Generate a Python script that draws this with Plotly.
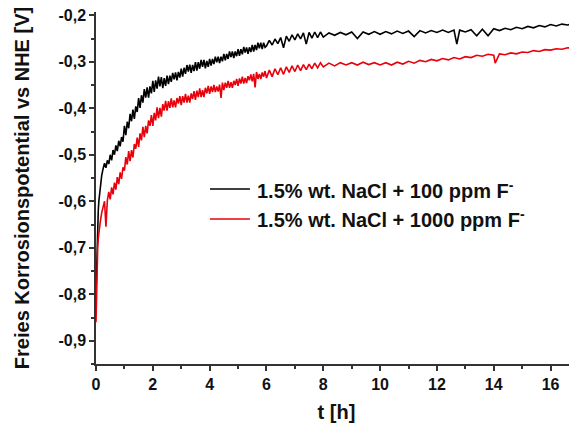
import plotly.graph_objects as go

# ---- data ----
t_black = [0, 0.02, 0.04, 0.06, 0.08, 0.1, 0.15, 0.2, 0.25, 0.3, 0.35, 0.4, 0.45, 0.5, 0.55, 0.6, 0.65, 0.7,
           0.75, 0.8, 0.85, 0.9, 0.95,
           1.0, 1.05, 1.1, 1.15, 1.2, 1.25, 1.3, 1.35, 1.4, 1.45, 1.5, 1.55, 1.6, 1.65, 1.7, 1.75, 1.8, 1.85,
           1.9, 1.95, 2.0, 2.05, 2.1, 2.15, 2.2, 2.25, 2.3, 2.35, 2.4, 2.45, 2.5, 2.55, 2.6, 2.65, 2.7, 2.75,
           2.8, 2.85, 2.9, 2.95, 3.0, 3.05, 3.1, 3.15, 3.2, 3.25, 3.3, 3.35, 3.4, 3.45, 3.5, 3.55, 3.6, 3.65,
           3.7, 3.75, 3.8, 3.85, 3.9, 3.95, 4.0, 4.05, 4.1, 4.15, 4.2, 4.25, 4.3, 4.35, 4.4, 4.45, 4.5, 4.55,
           4.6, 4.65, 4.7, 4.75, 4.8, 4.85, 4.9, 4.95, 5.0, 5.05, 5.1, 5.15, 5.2, 5.25, 5.3, 5.35, 5.4, 5.45,
           5.5, 5.55, 5.6, 5.65, 5.7, 5.75, 5.8, 5.85, 5.9, 5.95,
           6.0, 6.1, 6.2, 6.3, 6.4, 6.5, 6.6, 6.7, 6.8, 6.9,
           7.0, 7.1, 7.2, 7.3, 7.4, 7.5, 7.6, 7.7, 7.8, 7.9, 8.0,
           8.2, 8.4, 8.6, 8.8, 9.0, 9.2, 9.4, 9.6, 9.8, 10.0, 10.2, 10.4, 10.6, 10.8, 11.0, 11.2, 11.4, 11.6,
           11.8, 12.0, 12.2, 12.4, 12.6, 12.7, 12.8, 13.0, 13.2, 13.4, 13.6, 13.8, 14.0, 14.2, 14.4, 14.6,
           14.8, 15.0, 15.2, 15.4, 15.6, 15.8, 16.0, 16.2, 16.4, 16.6, 16.8, 17.0]
v_black = [-0.80, -0.74, -0.69, -0.65, -0.62, -0.60, -0.57, -0.545, -0.53, -0.518, -0.528, -0.512, -0.520,
           -0.500, -0.512, -0.490, -0.500, -0.480, -0.492, -0.470, -0.482, -0.462, -0.472,
           -0.438, -0.458, -0.429, -0.443, -0.412, -0.428, -0.403, -0.423, -0.396, -0.408,
           -0.378, -0.399, -0.372, -0.388, -0.359, -0.377, -0.355, -0.377, -0.353, -0.368,
           -0.341, -0.365, -0.340, -0.358, -0.332, -0.353, -0.333, -0.357, -0.335, -0.352,
           -0.330, -0.348, -0.330, -0.343, -0.324, -0.338, -0.323, -0.340, -0.322, -0.334,
           -0.315, -0.332, -0.313, -0.326, -0.307, -0.321, -0.306, -0.324, -0.307, -0.320,
           -0.301, -0.319, -0.301, -0.315, -0.296, -0.311, -0.296, -0.314, -0.298, -0.311,
           -0.294, -0.308, -0.294, -0.305, -0.289, -0.301, -0.289, -0.303, -0.289, -0.299,
           -0.283, -0.297, -0.283, -0.294, -0.278, -0.290, -0.278, -0.292, -0.278, -0.288,
           -0.273, -0.287, -0.273, -0.284, -0.268, -0.280, -0.269, -0.283, -0.269, -0.279,
           -0.264, -0.278, -0.264, -0.275, -0.259, -0.271, -0.259, -0.273, -0.259, -0.269,
           -0.266, -0.254, -0.264, -0.251, -0.261, -0.248, -0.270, -0.245, -0.256, -0.242,
           -0.253, -0.240, -0.251, -0.238, -0.262, -0.237, -0.249, -0.236, -0.248, -0.236, -0.247,
           -0.238, -0.243, -0.237, -0.242, -0.236, -0.250, -0.236, -0.241, -0.235, -0.241, -0.235, -0.240,
           -0.234, -0.239, -0.234, -0.246, -0.233, -0.238, -0.233, -0.237, -0.232, -0.237, -0.232, -0.262,
           -0.232, -0.236, -0.231, -0.244, -0.230, -0.244, -0.229, -0.233, -0.228, -0.231, -0.226, -0.229,
           -0.224, -0.227, -0.222, -0.225, -0.220, -0.223, -0.219, -0.221, -0.217, -0.219]

t_red = [0, 0.02, 0.04, 0.06, 0.08, 0.1, 0.15, 0.2, 0.25, 0.3, 0.35, 0.4, 0.45, 0.5, 0.55, 0.6, 0.65, 0.7,
         0.75, 0.8, 0.85, 0.9, 0.95,
         1.0, 1.05, 1.1, 1.15, 1.2, 1.25, 1.3, 1.35, 1.4, 1.45, 1.5, 1.55, 1.6, 1.65, 1.7, 1.75, 1.8, 1.85,
         1.9, 1.95, 2.0, 2.05, 2.1, 2.15, 2.2, 2.25, 2.3, 2.35, 2.4, 2.45, 2.5, 2.55, 2.6, 2.65, 2.7, 2.75,
         2.8, 2.85, 2.9, 2.95, 3.0, 3.05, 3.1, 3.15, 3.2, 3.25, 3.3, 3.35, 3.4, 3.45, 3.5, 3.55, 3.6, 3.65,
         3.7, 3.75, 3.8, 3.85, 3.9, 3.95, 4.0, 4.05, 4.1, 4.15, 4.2, 4.25, 4.3, 4.35, 4.4, 4.45, 4.5, 4.55,
         4.6, 4.65, 4.7, 4.75, 4.8, 4.85, 4.9, 4.95, 5.0, 5.05, 5.1, 5.15, 5.2, 5.25, 5.3, 5.35, 5.4, 5.45,
         5.5, 5.55, 5.6, 5.65, 5.7, 5.75, 5.8, 5.85, 5.9, 5.95,
         6.0, 6.1, 6.2, 6.3, 6.4, 6.5, 6.6, 6.7, 6.8, 6.9,
         7.0, 7.1, 7.2, 7.3, 7.4, 7.5, 7.6, 7.7, 7.8, 7.9, 8.0,
         8.2, 8.4, 8.6, 8.8, 9.0, 9.2, 9.4, 9.6, 9.8, 10.0, 10.2, 10.4, 10.6, 10.8, 11.0, 11.2, 11.4, 11.6,
         11.8, 12.0, 12.2, 12.4, 12.6, 12.8, 13.0, 13.2, 13.4, 13.6, 13.8, 14.0, 14.05, 14.2, 14.4, 14.6,
         14.8, 15.0, 15.2, 15.4, 15.6, 15.8, 16.0, 16.2, 16.4, 16.6, 16.8, 17.0]
v_red = [-0.86, -0.78, -0.73, -0.70, -0.68, -0.665, -0.645, -0.625, -0.615, -0.600, -0.655, -0.598, -0.580,
         -0.596, -0.570, -0.585, -0.560, -0.575, -0.548, -0.563, -0.538, -0.552, -0.527,
         -0.534, -0.505, -0.521, -0.492, -0.514, -0.490, -0.506, -0.477, -0.487, -0.463,
         -0.483, -0.454, -0.469, -0.440, -0.462, -0.438, -0.454, -0.426, -0.438, -0.415,
         -0.438, -0.410, -0.426, -0.398, -0.421, -0.399, -0.418, -0.391, -0.405, -0.384,
         -0.405, -0.385, -0.399, -0.379, -0.398, -0.383, -0.398, -0.378, -0.390, -0.374,
         -0.393, -0.374, -0.388, -0.369, -0.388, -0.373, -0.388, -0.368, -0.380, -0.363,
         -0.382, -0.362, -0.376, -0.357, -0.376, -0.361, -0.376, -0.356, -0.368, -0.352,
         -0.369, -0.353, -0.365, -0.350, -0.365, -0.353, -0.364, -0.349, -0.378, -0.345,
         -0.361, -0.345, -0.356, -0.341, -0.356, -0.344, -0.356, -0.341, -0.350, -0.337,
         -0.352, -0.336, -0.347, -0.332, -0.347, -0.335, -0.346, -0.331, -0.340, -0.327,
         -0.342, -0.326, -0.355, -0.322, -0.337, -0.326, -0.337, -0.323, -0.332, -0.320,
         -0.335, -0.318, -0.332, -0.315, -0.328, -0.313, -0.327, -0.311, -0.323, -0.309,
         -0.321, -0.307, -0.319, -0.306, -0.317, -0.305, -0.315, -0.303, -0.313, -0.302, -0.311,
         -0.303, -0.309, -0.302, -0.307, -0.302, -0.307, -0.301, -0.306, -0.302, -0.307, -0.302, -0.307,
         -0.301, -0.305, -0.299, -0.303, -0.297, -0.300, -0.295, -0.298, -0.293, -0.296, -0.291, -0.294,
         -0.289, -0.291, -0.286, -0.288, -0.284, -0.286, -0.303, -0.283, -0.285, -0.281, -0.283, -0.279,
         -0.280, -0.276, -0.278, -0.274, -0.275, -0.272, -0.273, -0.270, -0.271, -0.268]

series_names = ["1.5% wt. NaCl + 100 ppm F<sup>-</sup>", "1.5% wt. NaCl + 1000 ppm F<sup>-</sup>"]
series_colors = ["#000000", "#e8000b"]
x_tick_vals = [0, 2, 4, 6, 8, 10, 12, 14, 16]
x_tick_text = ["0", "2", "4", "6", "8", "10", "12", "14", "16"]
y_tick_vals = [-0.9, -0.8, -0.7, -0.6, -0.5, -0.4, -0.3, -0.2]
y_tick_text = ["-0,9", "-0,8", "-0,7", "-0,6", "-0,5", "-0,4", "-0,3", "-0,2"]

FONT = "Liberation Sans, Arial, sans-serif"
AXIS_COLOR = "#333333"
TXT = "#111111"

fig = go.Figure()
fig.add_trace(go.Scatter(x=t_black, y=v_black, mode="lines", name=series_names[0],
                         line=dict(color=series_colors[0], width=1.6)))
fig.add_trace(go.Scatter(x=t_red, y=v_red, mode="lines", name=series_names[1],
                         line=dict(color=series_colors[1], width=1.6)))

# hand-drawn legend (paper coordinates)
legend_y = [0.497, 0.412]
for name, col, ly in zip(series_names, series_colors, legend_y):
    fig.add_shape(type="line", xref="paper", yref="paper", x0=0.237, x1=0.320, y0=ly, y1=ly,
                  line=dict(color=col, width=1.5))
    fig.add_annotation(xref="paper", yref="paper", x=0.331, y=ly, xanchor="left", yanchor="middle",
                       text=name, showarrow=False,
                       font=dict(family=FONT, size=20, color=TXT, weight="bold"))

# the page body adds an 8 px offset, so margins are reduced to compensate
fig.update_layout(
    width=577, height=427,
    margin=dict(l=88, r=8, t=4, b=71),
    paper_bgcolor="white", plot_bgcolor="white",
    font=dict(family=FONT, color=TXT),
    showlegend=False,
    xaxis=dict(range=[0, 16.93], tickmode="array", tickvals=x_tick_vals, ticktext=x_tick_text,
               automargin=False, ticklabeloverflow="allow",
               showgrid=False, zeroline=False, showline=True, linecolor=AXIS_COLOR, linewidth=1.5,
               ticks="outside", ticklen=5, tickwidth=1.5, tickcolor=AXIS_COLOR,
               minor=dict(dtick=1, ticks="outside", ticklen=3, tickwidth=1.5, tickcolor=AXIS_COLOR),
               tickfont=dict(family=FONT, size=16, color=TXT, weight="bold"),
               title=dict(text="t [h]", standoff=13,
                          font=dict(family=FONT, size=20, color=TXT, weight="bold"))),
    yaxis=dict(range=[-0.95, -0.193], tickmode="array", tickvals=y_tick_vals, ticktext=y_tick_text,
               automargin=False, ticklabeloverflow="allow",
               showgrid=False, zeroline=False, showline=True, linecolor=AXIS_COLOR, linewidth=1.5,
               ticks="outside", ticklen=5, tickwidth=1.5, tickcolor=AXIS_COLOR,
               minor=dict(tickvals=[-0.95, -0.85, -0.75, -0.65, -0.55, -0.45, -0.35, -0.25],
                          ticks="outside", ticklen=3, tickwidth=1.5, tickcolor=AXIS_COLOR),
               tickfont=dict(family=FONT, size=16, color=TXT, weight="bold"),
               title=dict(text="Freies Korrosionspotential vs NHE [V]", standoff=23,
                          font=dict(family=FONT, size=20, color=TXT, weight="bold"))),
)

fig.write_html("out.html")
